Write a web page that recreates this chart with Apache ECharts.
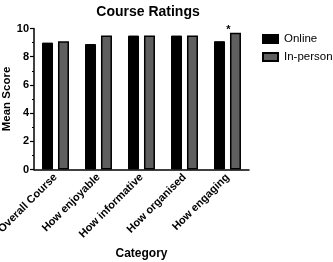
<!DOCTYPE html>
<html><head><meta charset="utf-8">
<script src="https://cdn.jsdelivr.net/npm/echarts@6/dist/echarts.min.js"></script>
<style>html,body{margin:0;padding:0;background:#fff}#c{width:333px;height:262px}</style>
</head><body><div id="c"></div>
<script>
const categories = ['Overall Course','How enjoyable','How informative','How organised','How engaging'];
const onlineValues = [9.0, 8.9, 9.5, 9.5, 9.1];
const inPersonValues = [9.1, 9.5, 9.5, 9.5, 9.7];
const significance = ['', '', '', '', '*'];
const yTicks = [0, 2, 4, 6, 8, 10];

const F = 'Liberation Sans, Arial, sans-serif';
const chart = echarts.init(document.getElementById('c'), null, {renderer:'canvas'});
chart.setOption({
  animation:false,
  title:{text:'Course Ratings', left:143, textAlign:'center', top:0,
    textStyle:{fontFamily:F, fontSize:14, fontWeight:'bold', color:'#000'}},
  legend:{orient:'vertical', left:262, top:33, itemWidth:15, itemHeight:8, itemGap:6, icon:'rect',
    padding:0,
    textStyle:{fontFamily:F, fontSize:11.5, color:'#000', padding:[0,0,0,1]},
    data:['Online','In-person']},
  grid:{left:34, right:84, top:28.5, bottom:92.5, outerBoundsMode:'none', containLabel:false},
  xAxis:{type:'category', data:categories,
    name:'Category', nameLocation:'middle', nameGap:78, nameMoveOverlap:false,
    nameTextStyle:{fontFamily:F, fontSize:12, fontWeight:'bold', color:'#000'},
    axisLine:{lineStyle:{color:'#000', width:1.5}},
    axisTick:{alignWithLabel:true, length:4, lineStyle:{color:'#000', width:1.2}},
    axisLabel:{rotate:45, fontFamily:F, fontSize:11, fontWeight:'bold', color:'#000', margin:6, interval:0}},
  yAxis:{type:'value', min:yTicks[0], max:yTicks[yTicks.length-1], interval:2,
    name:'Mean Score', nameLocation:'middle', nameGap:21, nameMoveOverlap:false,
    nameTextStyle:{fontFamily:F, fontSize:11.5, fontWeight:'bold', color:'#000'},
    axisLine:{show:true, lineStyle:{color:'#000', width:1.5}},
    axisTick:{show:true, length:4, lineStyle:{color:'#000', width:1.2}},
    minorTick:{show:true, splitNumber:2, length:2, lineStyle:{color:'#000', width:1}},
    splitLine:{show:false},
    axisLabel:{fontFamily:F, fontSize:11, fontWeight:'bold', color:'#000', margin:5}},
  series:[
    {name:'Online', type:'bar', data:onlineValues, barWidth:11, barGap:'45%',
     itemStyle:{color:'#000', borderColor:'#000', borderWidth:1}},
    {name:'In-person', type:'bar', data:inPersonValues.map((v,i)=>({value:v,
       label:{show:significance[i]!=='', formatter:significance[i], position:'top', distance:0,
              offset:[-7,3], fontFamily:F, fontSize:11, fontWeight:'bold', color:'#000'}})),
     barWidth:11,
     itemStyle:{color:'#5f5f5f', borderColor:'#000', borderWidth:1.5}}
  ]
});
</script></body></html>
